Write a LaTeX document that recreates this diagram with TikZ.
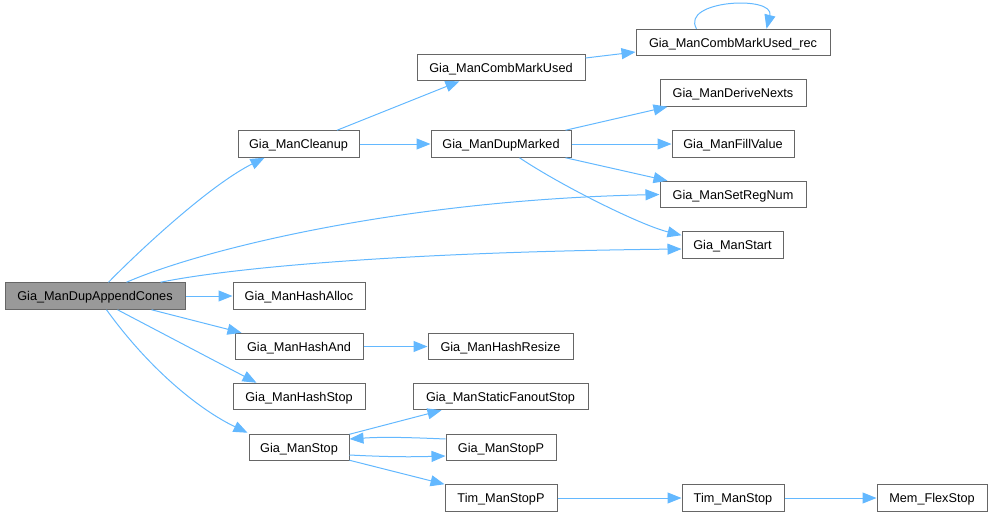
\documentclass[tikz,border=0pt]{standalone}
\usepackage{fontspec}
\setmainfont{Liberation Sans}
\usetikzlibrary{arrows.meta}
\definecolor{edgec}{HTML}{63B8FF}
\definecolor{bordc}{HTML}{666666}
\definecolor{rootc}{HTML}{999999}
\tikzset{
  box/.style={draw=bordc, line width=1pt, fill=white, inner sep=0pt, minimum height=26.5pt, text height=9.1pt, text depth=0pt, font=\fontsize{12.7}{14}\selectfont, text=black},
  rootbox/.style={box, fill=rootc},
  edge/.style={draw=edgec, line width=1pt, -{Triangle[length=14pt,width=11pt]}}
}
\begin{document}
\begin{tikzpicture}[x=1pt,y=-1pt]
\useasboundingbox (0,0) rectangle (992,517);
\node[rootbox, minimum width=180pt] (root) at (95,296) {Gia\_ManDupAppendCones};
\node[box, minimum width=121pt] (cleanup) at (298.5,144) {Gia\_ManCleanup};
\node[box, minimum width=168pt] (comb) at (501,67.5) {Gia\_ManCombMarkUsed};
\node[box, minimum width=194pt] (rec) at (733,42.5) {Gia\_ManCombMarkUsed\_rec};
\node[box, minimum width=140pt] (dupm) at (501,144) {Gia\_ManDupMarked};
\node[box, minimum width=146pt] (derive) at (733,93) {Gia\_ManDeriveNexts};
\node[box, minimum width=122pt] (fill) at (733,144) {Gia\_ManFillValue};
\node[box, minimum width=146pt] (setreg) at (733,194.5) {Gia\_ManSetRegNum};
\node[box, minimum width=101pt] (start) at (732.5,245) {Gia\_ManStart};
\node[box, minimum width=132pt] (halloc) at (299,296) {Gia\_ManHashAlloc};
\node[box, minimum width=128pt] (hand) at (299,346.5) {Gia\_ManHashAnd};
\node[box, minimum width=145pt] (hres) at (500.5,346.5) {Gia\_ManHashResize};
\node[box, minimum width=132pt] (hstop) at (299,396.5) {Gia\_ManHashStop};
\node[box, minimum width=175pt] (sfan) at (500.5,396.5) {Gia\_ManStaticFanoutStop};
\node[box, minimum width=100pt] (stop) at (299,447.5) {Gia\_ManStop};
\node[box, minimum width=110pt] (stopp) at (501,447.5) {Gia\_ManStopP};
\node[box, minimum width=112pt] (tstopp) at (501,498) {Tim\_ManStopP};
\node[box, minimum width=102pt] (tstop) at (733,498) {Tim\_ManStop};
\node[box, minimum width=110pt] (mem) at (932,498) {Mem\_FlexStop};

% root edges
\draw[edge] ([xshift=104pt]root.north west) .. controls (140,250) and (210,185) .. ([xshift=27pt]cleanup.south west);
\draw[edge] ([xshift=122pt]root.north west) .. controls (200,250) and (400,200) .. (setreg.west);
\draw[edge] ([xshift=156pt]root.north west) .. controls (230,268) and (400,252) .. ([yshift=-4pt]start.west);
\draw[edge] (root.east) -- (halloc.west);
\draw[edge] ([xshift=147pt]root.south west) -- ([xshift=7pt]hand.north west);
\draw[edge] ([xshift=113pt]root.south west) -- ([xshift=24pt]hstop.north west);
\draw[edge] ([xshift=102pt]root.south west) .. controls (150,370) and (200,410) .. ([xshift=-1pt,yshift=1pt]stop.north west);

% cleanup
\draw[edge] ([xshift=38.5pt]cleanup.north) -- ([xshift=43pt]comb.south west);
\draw[edge] (cleanup.east) -- (dupm.west);
\draw[edge] ([yshift=9.5pt]comb.east) -- ([yshift=-9.5pt]rec.west);
\draw[edge] ([xshift=61pt]rec.north west) .. controls (680,0) and (775,-5) .. ([xshift=131pt]rec.north west);

% dupmarked
\draw[edge] ([xshift=-6pt]dupm.north east) -- ([xshift=8pt]derive.south west);
\draw[edge] (dupm.east) -- (fill.west);
\draw[edge] ([xshift=-6pt]dupm.south east) -- ([xshift=8pt]setreg.north west);
\draw[edge] ([xshift=89pt]dupm.south west) .. controls (560,185) and (640,225) .. ([yshift=-4pt]start.north west);

% hash
\draw[edge] (hand.east) -- (hres.west);

% stop
\draw[edge] ([yshift=-0.5pt]stop.north east) -- ([xshift=29pt]sfan.south west);
\draw[edge] ([yshift=8.5pt]stopp.west) .. controls (400,437) and (380,437) .. ([yshift=8.5pt]stop.east);
\draw[edge] ([yshift=-7.5pt]stop.east) .. controls (390,457) and (410,457) .. ([yshift=-8.5pt]stopp.west);
\draw[edge] ([yshift=1pt]stop.south east) -- (tstopp.north west);
\draw[edge] (tstopp.east) -- (tstop.west);
\draw[edge] (tstop.east) -- (mem.west);
\end{tikzpicture}
\end{document}
